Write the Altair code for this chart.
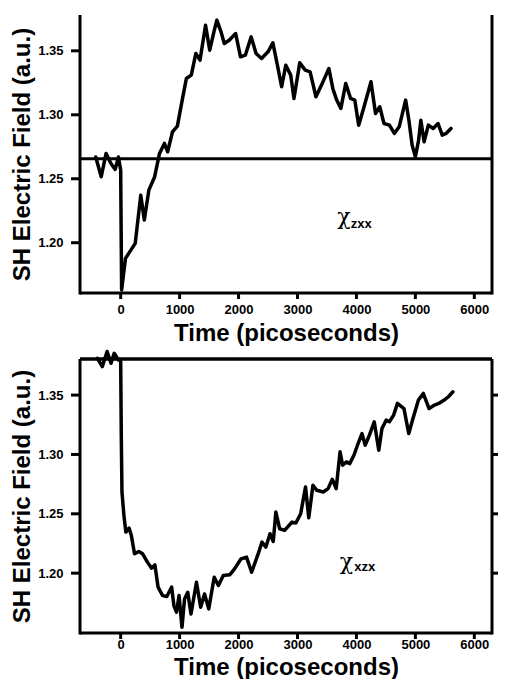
import altair as alt
import pandas as pd

# ---------------- data ----------------
t_zxx = [-423, -330, -247, -165, -93, -38, 0, 16, 82, 137, 247, 341, 401, 478, 577, 659,
         742, 797, 879, 962, 1044, 1115, 1198, 1275, 1346, 1440, 1511, 1582, 1632, 1703,
         1758, 1841, 1951, 2033, 2115, 2214, 2297, 2390, 2500, 2582, 2665, 2731, 2802,
         2885, 2940, 3038, 3132, 3214, 3313, 3407, 3533, 3599, 3665, 3736, 3819, 3901,
         3972, 4038, 4121, 4247, 4324, 4396, 4467, 4560, 4643, 4725, 4835, 4890, 4945,
         5000, 5055, 5093, 5148, 5220, 5302, 5385, 5456, 5522, 5604]
v_zxx = [1.267, 1.2516, 1.2698, 1.262, 1.2573, 1.267, 1.2568, 1.163, 1.1878, 1.1917, 1.1995,
         1.2372, 1.2177, 1.2411, 1.2516, 1.2698, 1.2776, 1.2711, 1.2867, 1.2911, 1.3115,
         1.3284, 1.331, 1.3479, 1.3427, 1.370, 1.3505, 1.3648, 1.374, 1.3648, 1.3557,
         1.3583, 1.3635, 1.3453, 1.3466, 1.3609, 1.3479, 1.344, 1.3492, 1.3562, 1.3375,
         1.3219, 1.3388, 1.331, 1.3128, 1.3406, 1.3349, 1.3336, 1.3141, 1.3232, 1.3362,
         1.3206, 1.3115, 1.305, 1.3245, 1.3128, 1.3115, 1.2919, 1.305, 1.3258, 1.301,
         1.3063, 1.2932, 1.2919, 1.2854, 1.2906, 1.3115, 1.2958, 1.2763, 1.2672, 1.2802,
         1.2958, 1.2789, 1.2919, 1.2893, 1.2932, 1.2841, 1.2854, 1.2893]

t_xzx = [-394, -312, -230, -164, -110, -39, 0, 11, 22, 55, 88, 142, 181, 235, 307, 372,
         454, 525, 580, 635, 712, 783, 826, 865, 903, 947, 991, 1040, 1084, 1138, 1193,
         1286, 1357, 1423, 1494, 1587, 1658, 1741, 1850, 1932, 2042, 2135, 2222, 2343,
         2397, 2463, 2534, 2589, 2633, 2698, 2781, 2906, 2972, 3054, 3136, 3191, 3262,
         3328, 3437, 3519, 3591, 3656, 3722, 3766, 3831, 3886, 3957, 4028, 4094, 4149,
         4220, 4302, 4379, 4433, 4505, 4559, 4631, 4696, 4806, 4888, 4959, 5052, 5134,
         5232, 5325, 5396, 5489, 5560, 5637]
v_xzx = [1.381, 1.374, 1.3867, 1.3768, 1.3852, 1.3796, 1.3796, 1.3134, 1.2684, 1.2487,
         1.2346, 1.238, 1.2318, 1.2163, 1.2183, 1.2163, 1.2093, 1.2042, 1.2070, 1.1882,
         1.1811, 1.1803, 1.1845, 1.1882, 1.1727, 1.1671, 1.1811, 1.1544, 1.1783, 1.1839,
         1.1656, 1.1924, 1.1713, 1.1825, 1.1699, 1.1966, 1.1896, 1.198, 1.1986, 1.2036,
         1.2121, 1.2135, 1.2008, 1.2177, 1.2262, 1.222, 1.2332, 1.2267, 1.2515, 1.2374,
         1.236, 1.243, 1.2422, 1.2501, 1.2726, 1.2467, 1.274, 1.2698, 1.2684, 1.2712,
         1.2791, 1.2712, 1.3022, 1.2909, 1.2937, 1.2923, 1.2993, 1.3092, 1.3176, 1.3078,
         1.3162, 1.3275, 1.3036, 1.3219, 1.3289, 1.3275, 1.3331, 1.343, 1.3387, 1.3176,
         1.3303, 1.3458, 1.3514, 1.3387, 1.3416, 1.343, 1.3458, 1.3486, 1.3528]

baseline_zxx = 1.2656
baseline_xzx = 1.3804

x_ticks = [0, 1000, 2000, 3000, 4000, 5000, 6000]
y_ticks = [1.20, 1.25, 1.30, 1.35]
x_frame = [-690, 6300]            # time range enclosed by the frame
y_frame_zxx = [1.1607, 1.378]     # value range enclosed by the top frame
y_frame_xzx = [1.1496, 1.3804]    # value range enclosed by the bottom frame

# label anchors: (time, value) for chi and for its subscript
label_zxx = {"chi": (3674, 1.2146), "sub": (3904, 1.2115), "text": "zxx"}
label_xzx = {"chi": (3716, 1.2036), "sub": (3962, 1.2019), "text": "xzx"}

X_TITLE = "Time (picoseconds)"
Y_TITLE = "SH Electric Field (a.u.)"
SANS = "Liberation Sans"
INSET = 4  # px between the scale range edge and the drawn frame


def panel(t, v, base, yframe, label, fw, fh, top_line, right_ticks, x_title_pad, x_label_pad):
    w, h = fw + 2 * INSET, fh + 2 * INSET
    ux = (x_frame[1] - x_frame[0]) / fw     # data units per pixel
    uy = (yframe[1] - yframe[0]) / fh
    xs = alt.Scale(domain=[x_frame[0] - INSET * ux, x_frame[1] + INSET * ux], nice=False, zero=False)
    ys = alt.Scale(domain=[yframe[0] - INSET * uy, yframe[1] + INSET * uy], nice=False, zero=False)
    x_axis = alt.Axis(values=x_ticks, format="d", title=X_TITLE, domain=False, ticks=False,
                      labelPadding=x_label_pad, titlePadding=x_title_pad)
    y_axis = alt.Axis(values=y_ticks, format=".2f", title=Y_TITLE, domain=False, ticks=False,
                      labelPadding=13, titlePadding=3)
    X = lambda f: alt.X(f, type="quantitative", scale=xs, axis=x_axis)
    Y = lambda f: alt.Y(f, type="quantitative", scale=ys, axis=y_axis)

    df = pd.DataFrame({"t": t, "v": v})
    line = alt.Chart(df).mark_line(color="black", strokeWidth=3.5, strokeJoin="round",
                                   strokeCap="round").encode(x=X("t"), y=Y("v"))
    # frame sides as filled strips
    sides = alt.Chart(pd.DataFrame({
        "a": [x - 1.5 * ux for x in x_frame], "b": [x + 1.5 * ux for x in x_frame],
        "v0": [yframe[0] - 1.5 * uy] * 2, "v1": [yframe[1]] * 2})).mark_rect(
        color="black", opacity=1).encode(x=X("a"), x2=alt.X2("b"), y=Y("v0"), y2=alt.Y2("v1"))
    hlines = [yframe[0], base] + ([yframe[1]] if top_line else [])
    horiz = alt.Chart(pd.DataFrame({"v": hlines, "t0": [x_frame[0]] * len(hlines),
                                    "t1": [x_frame[1]] * len(hlines)})
                      ).mark_rule(color="black", strokeWidth=3).encode(
        y=Y("v"), x=X("t0"), x2=alt.X2("t1"))
    # left ticks as filled strips pointing outward
    lt = alt.Chart(pd.DataFrame({
        "a": [x_frame[0] - 9 * ux] * len(y_ticks), "b": [x_frame[0]] * len(y_ticks),
        "v0": [y - 1.5 * uy for y in y_ticks], "v1": [y + 1.5 * uy for y in y_ticks]})).mark_rect(
        color="black", opacity=1).encode(x=X("a"), x2=alt.X2("b"), y=Y("v0"), y2=alt.Y2("v1"))
    bt = alt.Chart(pd.DataFrame({"t": x_ticks, "v": [yframe[0]] * len(x_ticks)})).mark_tick(
        color="black", opacity=1, orient="vertical", size=6, thickness=3, yOffset=3).encode(
        x=X("t"), y=Y("v"))
    chi = alt.Chart(pd.DataFrame({"t": [label["chi"][0]], "v": [label["chi"][1]]})).mark_text(
        text="χ", font="DejaVu Serif", fontSize=22, align="left",
        baseline="alphabetic", color="black").encode(x=X("t"), y=Y("v"))
    sub = alt.Chart(pd.DataFrame({"t": [label["sub"][0]], "v": [label["sub"][1]]})).mark_text(
        text=label["text"], font=SANS, fontSize=13, fontWeight="bold", align="left",
        baseline="alphabetic", color="black").encode(x=X("t"), y=Y("v"))
    layers = [line, sides, horiz, lt, bt, chi, sub]
    if right_ticks:
        rt = alt.Chart(pd.DataFrame({"t": [x_frame[1]] * len(y_ticks), "v": y_ticks})).mark_tick(
            color="black", opacity=1, orient="horizontal", size=6, thickness=3, xOffset=3).encode(
            x=X("t"), y=Y("v"))
        layers.append(rt)
    return alt.layer(*layers).properties(width=w, height=h)


top = panel(t_zxx, v_zxx, baseline_zxx, y_frame_zxx, label_zxx, 412, 278, False, False, 5, 6)
bottom = panel(t_xzx, v_xzx, baseline_xzx, y_frame_xzx, label_xzx, 412, 274, True, True, 4, 1)

chart = alt.vconcat(top, bottom, spacing=4).properties(
    padding={"left": 2, "top": 3, "right": 0, "bottom": 0}
).configure_view(stroke=None).configure_axis(
    grid=False,
    labelFont=SANS, labelFontSize=13, labelFontWeight="bold", labelColor="black",
    titleFont=SANS, titleFontSize=24, titleFontWeight="bold", titleColor="black",
)

chart.save("out.html", embed_options={"renderer": "svg", "actions": False})
